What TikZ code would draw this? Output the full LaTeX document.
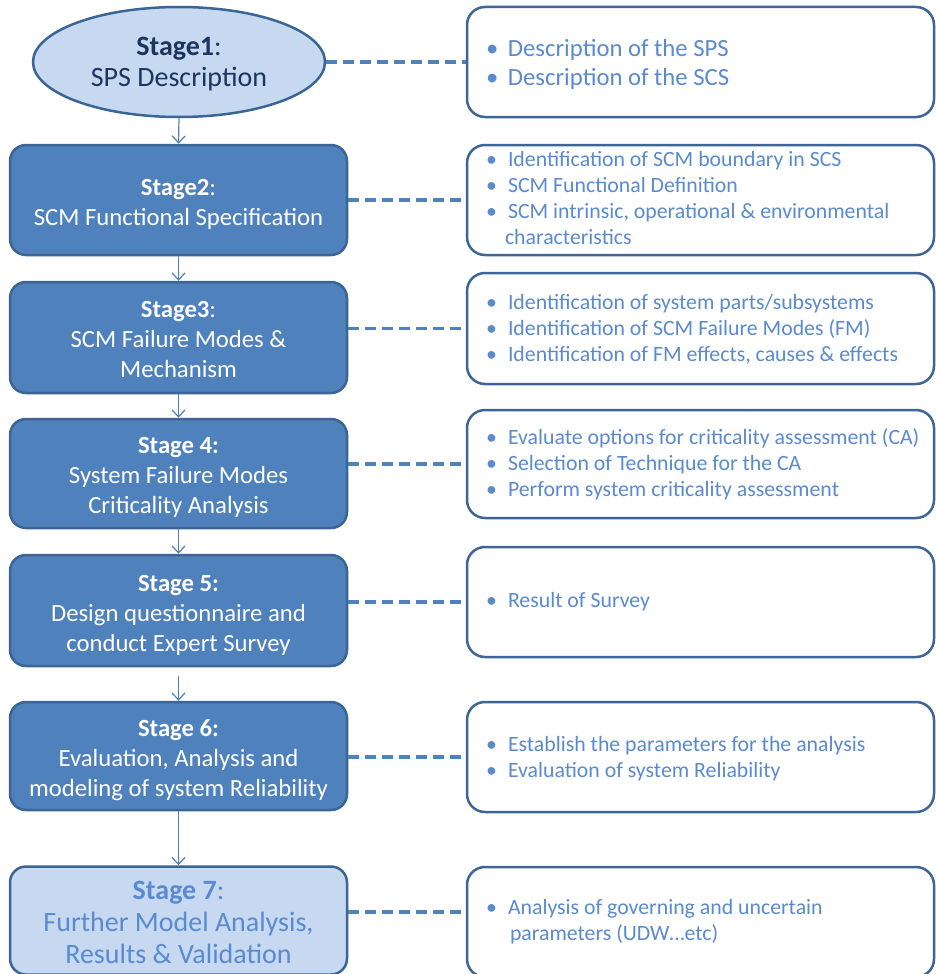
\documentclass[tikz,border=0pt]{standalone}
\usepackage{fontspec}
\setmainfont{Carlito}
\usetikzlibrary{shapes.geometric,arrows.meta}

\definecolor{stagefill}{HTML}{4F81BD}
\definecolor{stageline}{HTML}{3A6595}
\definecolor{palefill}{HTML}{C6D9F1}
\definecolor{navytext}{HTML}{1B365D}
\definecolor{notetext}{HTML}{5A8AD0}
\definecolor{noteline}{HTML}{3D6596}

% centred block of lines on the font's line pitch, lowered by #1
\newcommand\stagelines[2]{\raisebox{-#1}[\height][\depth]{\begin{tabular}{@{}c@{}}#2\end{tabular}}}
% left-aligned block of note lines, in a slot of fixed width
\newcommand\notelines[2][0pt]{\makebox[425pt][l]{\raisebox{-#1}[\height][\depth]{\begin{tabular}{@{}l@{}}#2\end{tabular}}}}
% one bulleted note line
\newcommand\itm[1]{\makebox[20pt][l]{\hspace{-2pt}\textbullet}#1}
% a wrapped continuation line of a note
\newcommand\cont[2]{\hspace*{#1}#2}

\tikzset{
  stagebox/.style={rectangle, rounded corners=16pt, draw=stageline, line width=2.5pt,
    fill=stagefill, text=white, minimum width=337pt, minimum height=110pt,
    inner sep=0pt, font=\fontsize{24.7}{30}\selectfont},
  lastbox/.style={stagebox, fill=palefill, text=notetext, font=\fontsize{28}{32}\selectfont},
  startoval/.style={ellipse, draw=stageline, line width=2.5pt, fill=palefill, text=navytext,
    minimum width=292pt, minimum height=110pt, inner sep=0pt,
    font=\fontsize{28}{31}\selectfont},
  notebox/.style={rectangle, rounded corners=18pt, draw=noteline, line width=2.5pt, fill=white,
    text=notetext, minimum width=467pt, inner sep=0pt,
    font=\fontsize{21.8}{26}\selectfont},
  flow/.style={draw=stagefill, line width=1.2pt, -{Straight Barb[length=7pt,width=13pt,line width=1.2pt]}},
  link/.style={draw=stagefill, line width=3.5pt, dash pattern=on 11pt off 6pt}
}

\begin{document}
\begin{tikzpicture}[x=1pt,y=-1pt]
\useasboundingbox (0,0) rectangle (936,974);
\clip (0,0) rectangle (936,974);
\fill[white] (0,0) rectangle (936,974);

% stage column
\node[startoval] (e1) at (179,62) {\stagelines{3pt}{\textbf{Stage1}:\\SPS Description}};
\node[stagebox] (s2) at (178.5,200) {\stagelines{4pt}{\textbf{Stage2}:\\SCM Functional Specification}};
\node[stagebox, minimum height=111pt] (s3) at (178.5,337.5) {\stagelines{4pt}{\textbf{Stage3}:\\SCM Failure Modes \&\\Mechanism}};
\node[stagebox, minimum height=109pt] (s4) at (178.5,473.5) {\stagelines{4pt}{\textbf{Stage 4:}\\System Failure Modes\\Criticality Analysis}};
\node[stagebox, minimum height=111pt] (s5) at (178.5,610.5) {\stagelines{4.5pt}{\textbf{Stage 5:}\\Design questionnaire and\\conduct Expert Survey}};
\node[stagebox, minimum height=108pt] (s6) at (178.5,756) {\stagelines{4pt}{\textbf{Stage 6:}\\Evaluation, Analysis and\\modeling of system Reliability}};
\node[lastbox, minimum height=108pt] (s7) at (178.5,920.5) {\stagelines{4.5pt}{\textbf{Stage 7}:\\Further Model Analysis,\\Results \& Validation}};

% notes column
\node[notebox, minimum height=110pt, font=\fontsize{24.7}{30}\selectfont] (n1) at (700.5,62)
  {\notelines[3pt]{\itm{Description of the SPS}\\\itm{Description of the SCS}}};
\node[notebox, minimum height=110pt] (n2) at (700.5,200)
  {\notelines[0.5pt]{\itm{Identification of SCM boundary in SCS}\\\itm{SCM Functional Definition}\\\itm{SCM intrinsic, operational \& environmental}\\\cont{17pt}{characteristics}}};
\node[notebox, minimum height=111pt] (n3) at (700.5,328.5)
  {\notelines[1.5pt]{\itm{Identification of system parts/subsystems}\\\itm{Identification of SCM Failure Modes (FM)}\\\itm{Identification of FM effects, causes \& effects}}};
\node[notebox, minimum height=108pt] (n4) at (700.5,464)
  {\notelines[1pt]{\itm{Evaluate options for criticality assessment (CA)}\\\itm{Selection of Technique for the CA}\\\itm{Perform system criticality assessment}}};
\node[notebox, minimum height=110pt] (n5) at (700.5,602)
  {\notelines{\itm{Result of Survey}}};
\node[notebox, minimum height=110pt] (n6) at (700.5,757)
  {\notelines[2.5pt]{\itm{Establish the parameters for the analysis}\\\itm{Evaluation of system Reliability}}};
\node[notebox, minimum height=110pt] (n7) at (700.5,922)
  {\notelines[0.5pt]{\itm{Analysis of governing and uncertain}\\\cont{22pt}{parameters (UDW…etc)}}};

% flow between stages
\draw[flow] (e1.south) -- (s2.north);
\draw[flow] (s2.south) -- (s3.north);
\draw[flow] (s3.south) -- (s4.north);
\draw[flow] (s4.south) -- (s5.north);
\draw[flow] ([yshift=-9pt]s5.south) -- (s6.north);
\draw[flow] (s6.south) -- (s7.north);

% dashed links to the notes
\draw[link] (e1.east) -- (n1.west);
\draw[link] (s2.east) -- (n2.west);
\draw[link] (n3.west -| s3.east) -- (n3.west);
\draw[link] (n4.west -| s4.east) -- (n4.west);
\draw[link] (n5.west -| s5.east) -- (n5.west);
\draw[link] (n6.west -| s6.east) -- (n6.west);
\draw[link] ([yshift=10pt]n7.west -| s7.east) -- ([yshift=10pt]n7.west);
\end{tikzpicture}
\end{document}
